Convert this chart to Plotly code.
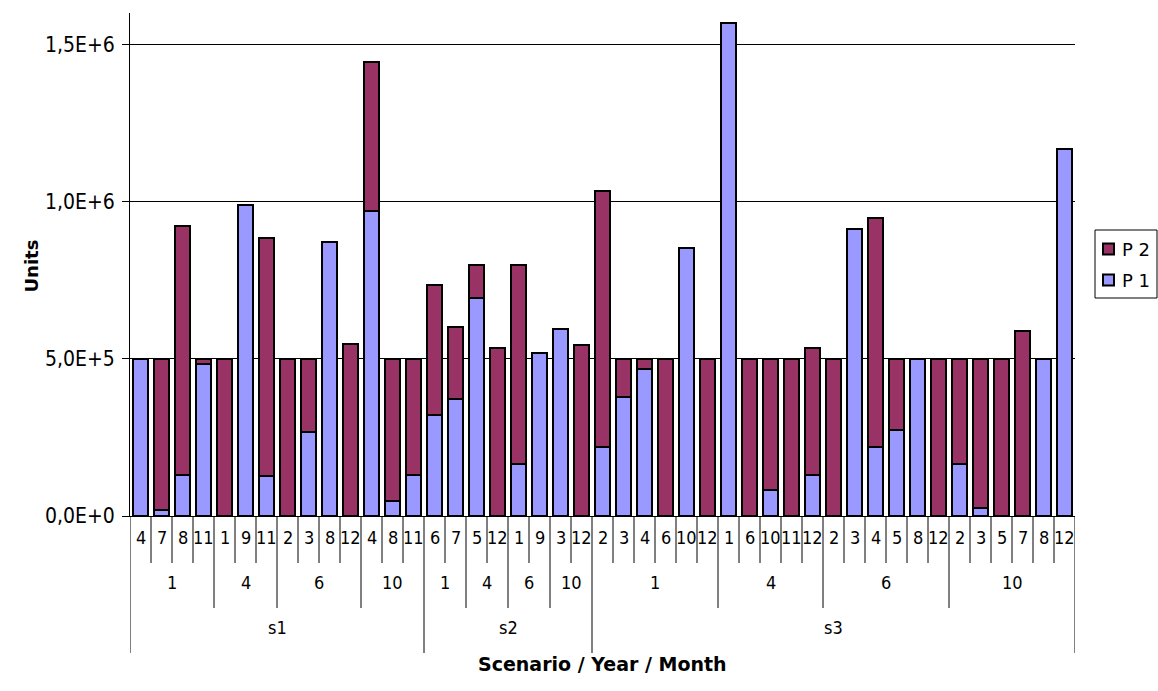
import plotly.graph_objects as go

# ---- data -------------------------------------------------------------
scenario = ["s1"] * 14 + ["s2"] * 8 + ["s3"] * 23
year = ([1, 1, 1, 1, 4, 4, 4, 6, 6, 6, 6, 10, 10, 10]
        + [1, 1, 4, 4, 6, 6, 10, 10]
        + [1] * 6 + [4] * 5 + [6] * 6 + [10] * 6)
month = ([4, 7, 8, 11, 1, 9, 11, 2, 3, 8, 12, 4, 8, 11]
         + [6, 7, 5, 12, 1, 9, 3, 12]
         + [2, 3, 4, 6, 10, 12, 1, 6, 10, 11, 12, 2, 3, 4, 5, 8, 12, 2, 3, 5, 7, 8, 12])

p1 = ([500000, 20000, 132000, 484000, 0, 988000, 128000, 0, 267000, 872000, 0, 969000, 48000, 132000]
      + [322000, 373000, 695000, 0, 167000, 520000, 595000, 0]
      + [220000, 379000, 467000, 0, 851000, 0,
         1568000, 0, 84000, 0, 129000,
         0, 913000, 220000, 275000, 500000, 0,
         164000, 25000, 0, 0, 500000, 1166000])
p2 = ([0, 480000, 791000, 16000, 500000, 0, 757000, 500000, 233000, 0, 548000, 476000, 452000, 368000]
      + [413000, 227000, 102000, 534000, 630000, 0, 0, 543000]
      + [813000, 121000, 33000, 500000, 0, 500000,
         0, 500000, 416000, 500000, 405000,
         500000, 0, 727000, 225000, 0, 500000,
         336000, 475000, 500000, 590000, 0, 0])

series_names = ["P 1", "P 2"]
y_tickvals = [0, 500000, 1000000, 1500000]
y_ticktext = ["0,0E+0", "5,0E+5", "1,0E+6", "1,5E+6"]

# ---- style ------------------------------------------------------------
C_P1 = "#9999FF"
C_P2 = "#993366"
FONT = "DejaVu Sans Condensed, DejaVu Sans, sans-serif"
BOLD_FONT = "DejaVu Sans, sans-serif"
W, H = 1158, 691
L, R, T, B = 130, 83, 13, 175
PLOT_H = H - T - B
Y_MAX = 1600000


def py(ypx):
    """page pixel row -> paper y"""
    return (H - B - ypx) / PLOT_H


def px(xpx):
    """page pixel column -> paper x"""
    return (xpx - L) / (W - L - R)


idx = list(range(len(month)))


def nz(vals):
    return [v if v else None for v in vals]


fig = go.Figure()
fig.add_bar(x=idx, y=nz(p1), name=series_names[0], width=0.71,
            marker=dict(color=C_P1, line=dict(color="black", width=2)))
fig.add_bar(x=idx, y=nz(p2), name=series_names[1], width=0.71,
            marker=dict(color=C_P2, line=dict(color="black", width=2)))

shapes = []
annotations = []

# ---- three-level category axis ----------------------------------------
MONTH_Y, YEAR_Y, SCEN_Y = 550, 595, 640
MONTH_LINE, YEAR_LINE, SCEN_LINE = 563, 608, 653

for i, m in enumerate(month):
    annotations.append(dict(x=i, y=py(MONTH_Y), xref="x", yref="paper",
                            text=str(m), showarrow=False,
                            font=dict(family=FONT, size=18, color="black")))


def groups(keys):
    out = []
    start = 0
    for i in range(1, len(keys) + 1):
        if i == len(keys) or keys[i] != keys[start]:
            out.append((start, i - 1, keys[start]))
            start = i
    return out


year_keys = list(zip(scenario, year))
for a, b, k in groups(year_keys):
    annotations.append(dict(x=(a + b) / 2, y=py(YEAR_Y), xref="x", yref="paper",
                            text=str(k[1]), showarrow=False,
                            font=dict(family=FONT, size=18, color="black")))
for a, b, k in groups(scenario):
    annotations.append(dict(x=(a + b) / 2, y=py(SCEN_Y), xref="x", yref="paper",
                            text=k, showarrow=False,
                            font=dict(family=FONT, size=18, color="black")))

# separators between categories
for i in range(len(month) + 1):
    if i == 0 or i == len(month) or scenario[i] != scenario[i - 1]:
        bottom = SCEN_LINE
    elif year_keys[i] != year_keys[i - 1]:
        bottom = YEAR_LINE
    else:
        bottom = MONTH_LINE
    shapes.append(dict(type="line", xref="x", yref="paper",
                       x0=i - 0.5, x1=i - 0.5, y0=0, y1=py(bottom),
                       line=dict(color="black", width=1)))

# axis titles
annotations.append(dict(x=0.5, y=py(677), xref="paper", yref="paper",
                        text="<b>Scenario / Year / Month</b>", showarrow=False,
                        font=dict(family=BOLD_FONT, size=19, color="black")))
annotations.append(dict(x=px(18), y=py(266), xref="paper", yref="paper",
                        text="<b>Units</b>", showarrow=False, textangle=-90,
                        font=dict(family=BOLD_FONT, size=18, color="black")))

# ---- legend box -----------------------------------------------------------
shapes.append(dict(type="rect", xref="paper", yref="paper",
                   x0=px(1095), x1=px(1157), y0=py(298), y1=py(230),
                   line=dict(color="black", width=1), fillcolor="white"))
for name, color, cy in [(series_names[1], C_P2, 249), (series_names[0], C_P1, 280)]:
    shapes.append(dict(type="rect", xref="paper", yref="paper",
                       x0=px(1103), x1=px(1114), y0=py(cy + 5.5), y1=py(cy - 5.5),
                       line=dict(color="black", width=2), fillcolor=color))
    annotations.append(dict(x=px(1120), y=py(cy), xref="paper", yref="paper",
                            text=name, showarrow=False, xanchor="left",
                            font=dict(family=BOLD_FONT, size=18, color="black")))

fig.update_layout(
    width=W, height=H,
    margin=dict(l=L, r=R, t=T, b=B, pad=0),
    barmode="stack",
    showlegend=False,
    plot_bgcolor="white", paper_bgcolor="white",
    shapes=shapes, annotations=annotations,
    xaxis=dict(range=[-0.5, len(month) - 0.5], showticklabels=False, ticks="",
               showgrid=False, zeroline=False, showline=True,
               linecolor="black", linewidth=1, fixedrange=True),
    yaxis=dict(range=[0, Y_MAX], tickvals=y_tickvals, ticktext=y_ticktext,
               ticks="outside", ticklen=7, tickcolor="black",
               showgrid=True, gridcolor="black", gridwidth=1,
               zeroline=False, showline=True, linecolor="black", linewidth=1,
               tickfont=dict(family=FONT, size=21, color="black"),
               ticklabelstandoff=3, fixedrange=True),
)

fig.write_html("out.html")
